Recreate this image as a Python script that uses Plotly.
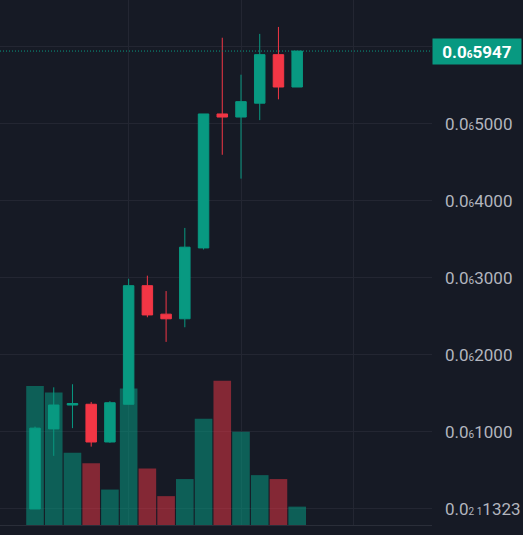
import plotly.graph_objects as go

# prices in units of 1e-7 (0.0₆xxxx)
bar_index = list(range(15))
opens = [0.00, 1.04, 1.35, 1.36, 0.87, 1.36, 2.90, 2.53, 2.47, 3.39, 5.13, 5.09, 5.27, 5.90, 5.48]
highs = [1.07, 1.58, 1.62, 1.39, 1.40, 2.99, 3.03, 2.83, 3.65, 5.13, 6.12, 5.64, 6.17, 6.26, 5.947]
lows = [0.00, 0.69, 1.05, 0.81, 0.86, 1.36, 2.49, 2.17, 2.36, 3.37, 4.60, 4.29, 5.05, 5.32, 5.48]
closes = [1.05, 1.35, 1.37, 0.87, 1.38, 2.90, 2.52, 2.47, 3.40, 5.13, 5.09, 5.29, 5.90, 5.48, 5.947]
volumes = [106, 101, 55, 47, 27, 104, 43, 22, 35, 81, 110, 71, 38, 35, 14]

sub = '<span style="font-size:10px">{}</span>'
price_ticks = [0, 1, 2, 3, 4, 5, 6]
price_labels = ["0.0" + sub.format("2 1") + "1323"] + \
               ["0.0" + sub.format("6") + v for v in ["1000", "2000", "3000", "4000", "5000"]] + [""]
last_price = 5.947
last_label = "<b>0.0" + sub.format("6") + "5947</b>"

bg = "#161a25"
grid = "#232632"
up = "#089981"
down = "#f23645"

vol_colors = ["rgba(8,153,129,0.55)" if c >= o else "rgba(242,54,69,0.5)"
              for o, c in zip(opens, closes)]

fig = go.Figure()
fig.add_trace(go.Bar(x=bar_index, y=volumes, marker=dict(color=vol_colors, line=dict(width=0)),
                     width=0.94, yaxis="y", showlegend=False))
fig.add_trace(go.Candlestick(x=bar_index, open=opens, high=highs, low=lows, close=closes,
                             yaxis="y2", showlegend=False, whiskerwidth=0,
                             increasing=dict(line=dict(color=up, width=1), fillcolor=up),
                             decreasing=dict(line=dict(color=down, width=1), fillcolor=down)))

fig.add_shape(type="line", xref="paper", x0=0, x1=1, yref="y2", y0=last_price, y1=last_price,
              line=dict(color=up, width=1, dash="1px,2px"))
fig.add_annotation(xref="paper", x=1, xanchor="left", yref="y2", y=last_price, yanchor="middle",
                   text=last_label, showarrow=False, bgcolor=up, width=84, height=21, borderpad=2,
                   font=dict(color="white", size=17, family="Roboto"))

fig.update_layout(
    width=523, height=535,
    margin=dict(l=0, r=91, t=0, b=10),
    paper_bgcolor=bg, plot_bgcolor=bg,
    boxgap=0.2,
    xaxis=dict(range=[-1.87, 21.2], tickvals=[5, 11, 17], showticklabels=False, showgrid=True,
               gridcolor=grid, zeroline=False, showline=True, linecolor="#2a2e39",
               rangeslider=dict(visible=False), ticks=""),
    yaxis=dict(range=[0, 400], visible=False, showgrid=False, zeroline=False),
    yaxis2=dict(overlaying="y", side="right", range=[-0.208, 6.61], tickvals=price_ticks,
                ticktext=price_labels, showgrid=True, gridcolor=grid, zeroline=False,
                ticks="", ticklabelstandoff=12,
                tickfont=dict(color="#b2b5be", size=17, family="Roboto")),
)

fig.write_html("out.html", config={"displayModeBar": False},
               post_script="document.body.style.margin='0';"
                           "document.body.style.background='" + bg + "';")
